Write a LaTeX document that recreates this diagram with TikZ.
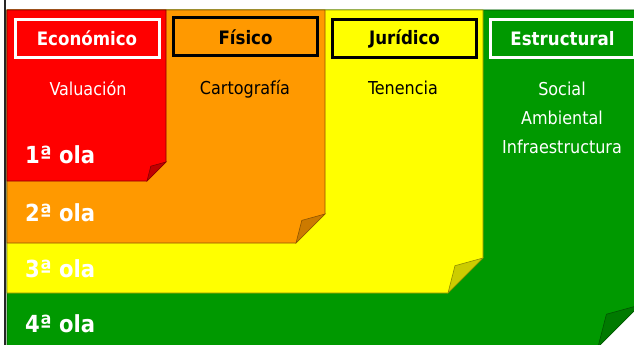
\documentclass[tikz,border=0pt]{standalone}
\usepackage{fontspec}
\setmainfont{DejaVu Sans Condensed}
\usepackage{tikz}
\usetikzlibrary{positioning}

\definecolor{ecored}{HTML}{FF0000}
\definecolor{ecofold}{HTML}{C00000}
\definecolor{fisorange}{HTML}{FF9900}
\definecolor{fisfold}{HTML}{CC7A00}
\definecolor{juryellow}{HTML}{FFFF00}
\definecolor{jurfold}{HTML}{CCCC00}
\definecolor{estgreen}{HTML}{009900}
\definecolor{estfold}{HTML}{007A00}

% sheet with folded corner: fill, fold, right, bottom, fold size
\newcommand{\foldsheet}[5]{%
  \draw[#2!70!black, line width=0.6pt, fill=#1]
    (7,10) -- (#3,10) -- (#3,#4-#5) -- (#3-#5,#4) -- (7,#4) -- cycle;
  \draw[#2!70!black, line width=0.6pt, fill=#2]
    (#3-#5,#4) -- (#3-0.8*#5,#4-0.78*#5) -- (#3,#4-#5) -- cycle;
}

\begin{document}
\begin{tikzpicture}[x=1pt, y=-1pt,
  header/.style={rectangle, draw, line width=3pt, minimum width=144pt, minimum height=38pt, inner sep=0pt, font=\fontsize{18.5}{22}\selectfont\bfseries},
  topic/.style={align=center, font=\fontsize{17.8}{29}\selectfont},
  wave/.style={anchor=west, inner sep=0pt, text=white, font=\fontsize{23.5}{26}\selectfont\bfseries}
]
  \useasboundingbox (0,0) rectangle (634,345);
  \clip (0,0) rectangle (634,345);

  % Sheets, back to front
  \foldsheet{estgreen}{estfold}{640}{347}{42}
  \foldsheet{juryellow}{jurfold}{483}{293}{35}
  \foldsheet{fisorange}{fisfold}{325}{243}{29}
  \foldsheet{ecored}{ecofold}{166}{181}{19}

  % Left border
  \draw[line width=2pt, black!85] (5,0) -- (5,345);

  % Headers
  \node[header, draw=white, text=white] (eco) at (87,38.5) {Económico};
  \node[header, draw=black, text=black] (fis) at (245.5,37) {Físico};
  \node[header, draw=black, text=black] (jur) at (404.5,39) {Jurídico};
  \node[header, draw=white, text=white] (est) at (562.5,38.5) {Estructural};

  % Topics
  \node[topic, text=white] (valuacion) at (88,89) {Valuación};
  \node[topic, text=black] (cartografia) at (245,89) {Cartografía};
  \node[topic, text=black] (tenencia) at (403,88) {Tenencia};
  \node[topic, text=white] (social) at (562,118) {Social\\Ambiental\\Infraestructura};

  % Waves
  \node[wave] (ola1) at (25,155) {1ª ola};
  \node[wave] (ola2) at (25,213) {2ª ola};
  \node[wave] (ola3) at (25,269) {3ª ola};
  \node[wave] (ola4) at (25,324) {4ª ola};
\end{tikzpicture}
\end{document}
